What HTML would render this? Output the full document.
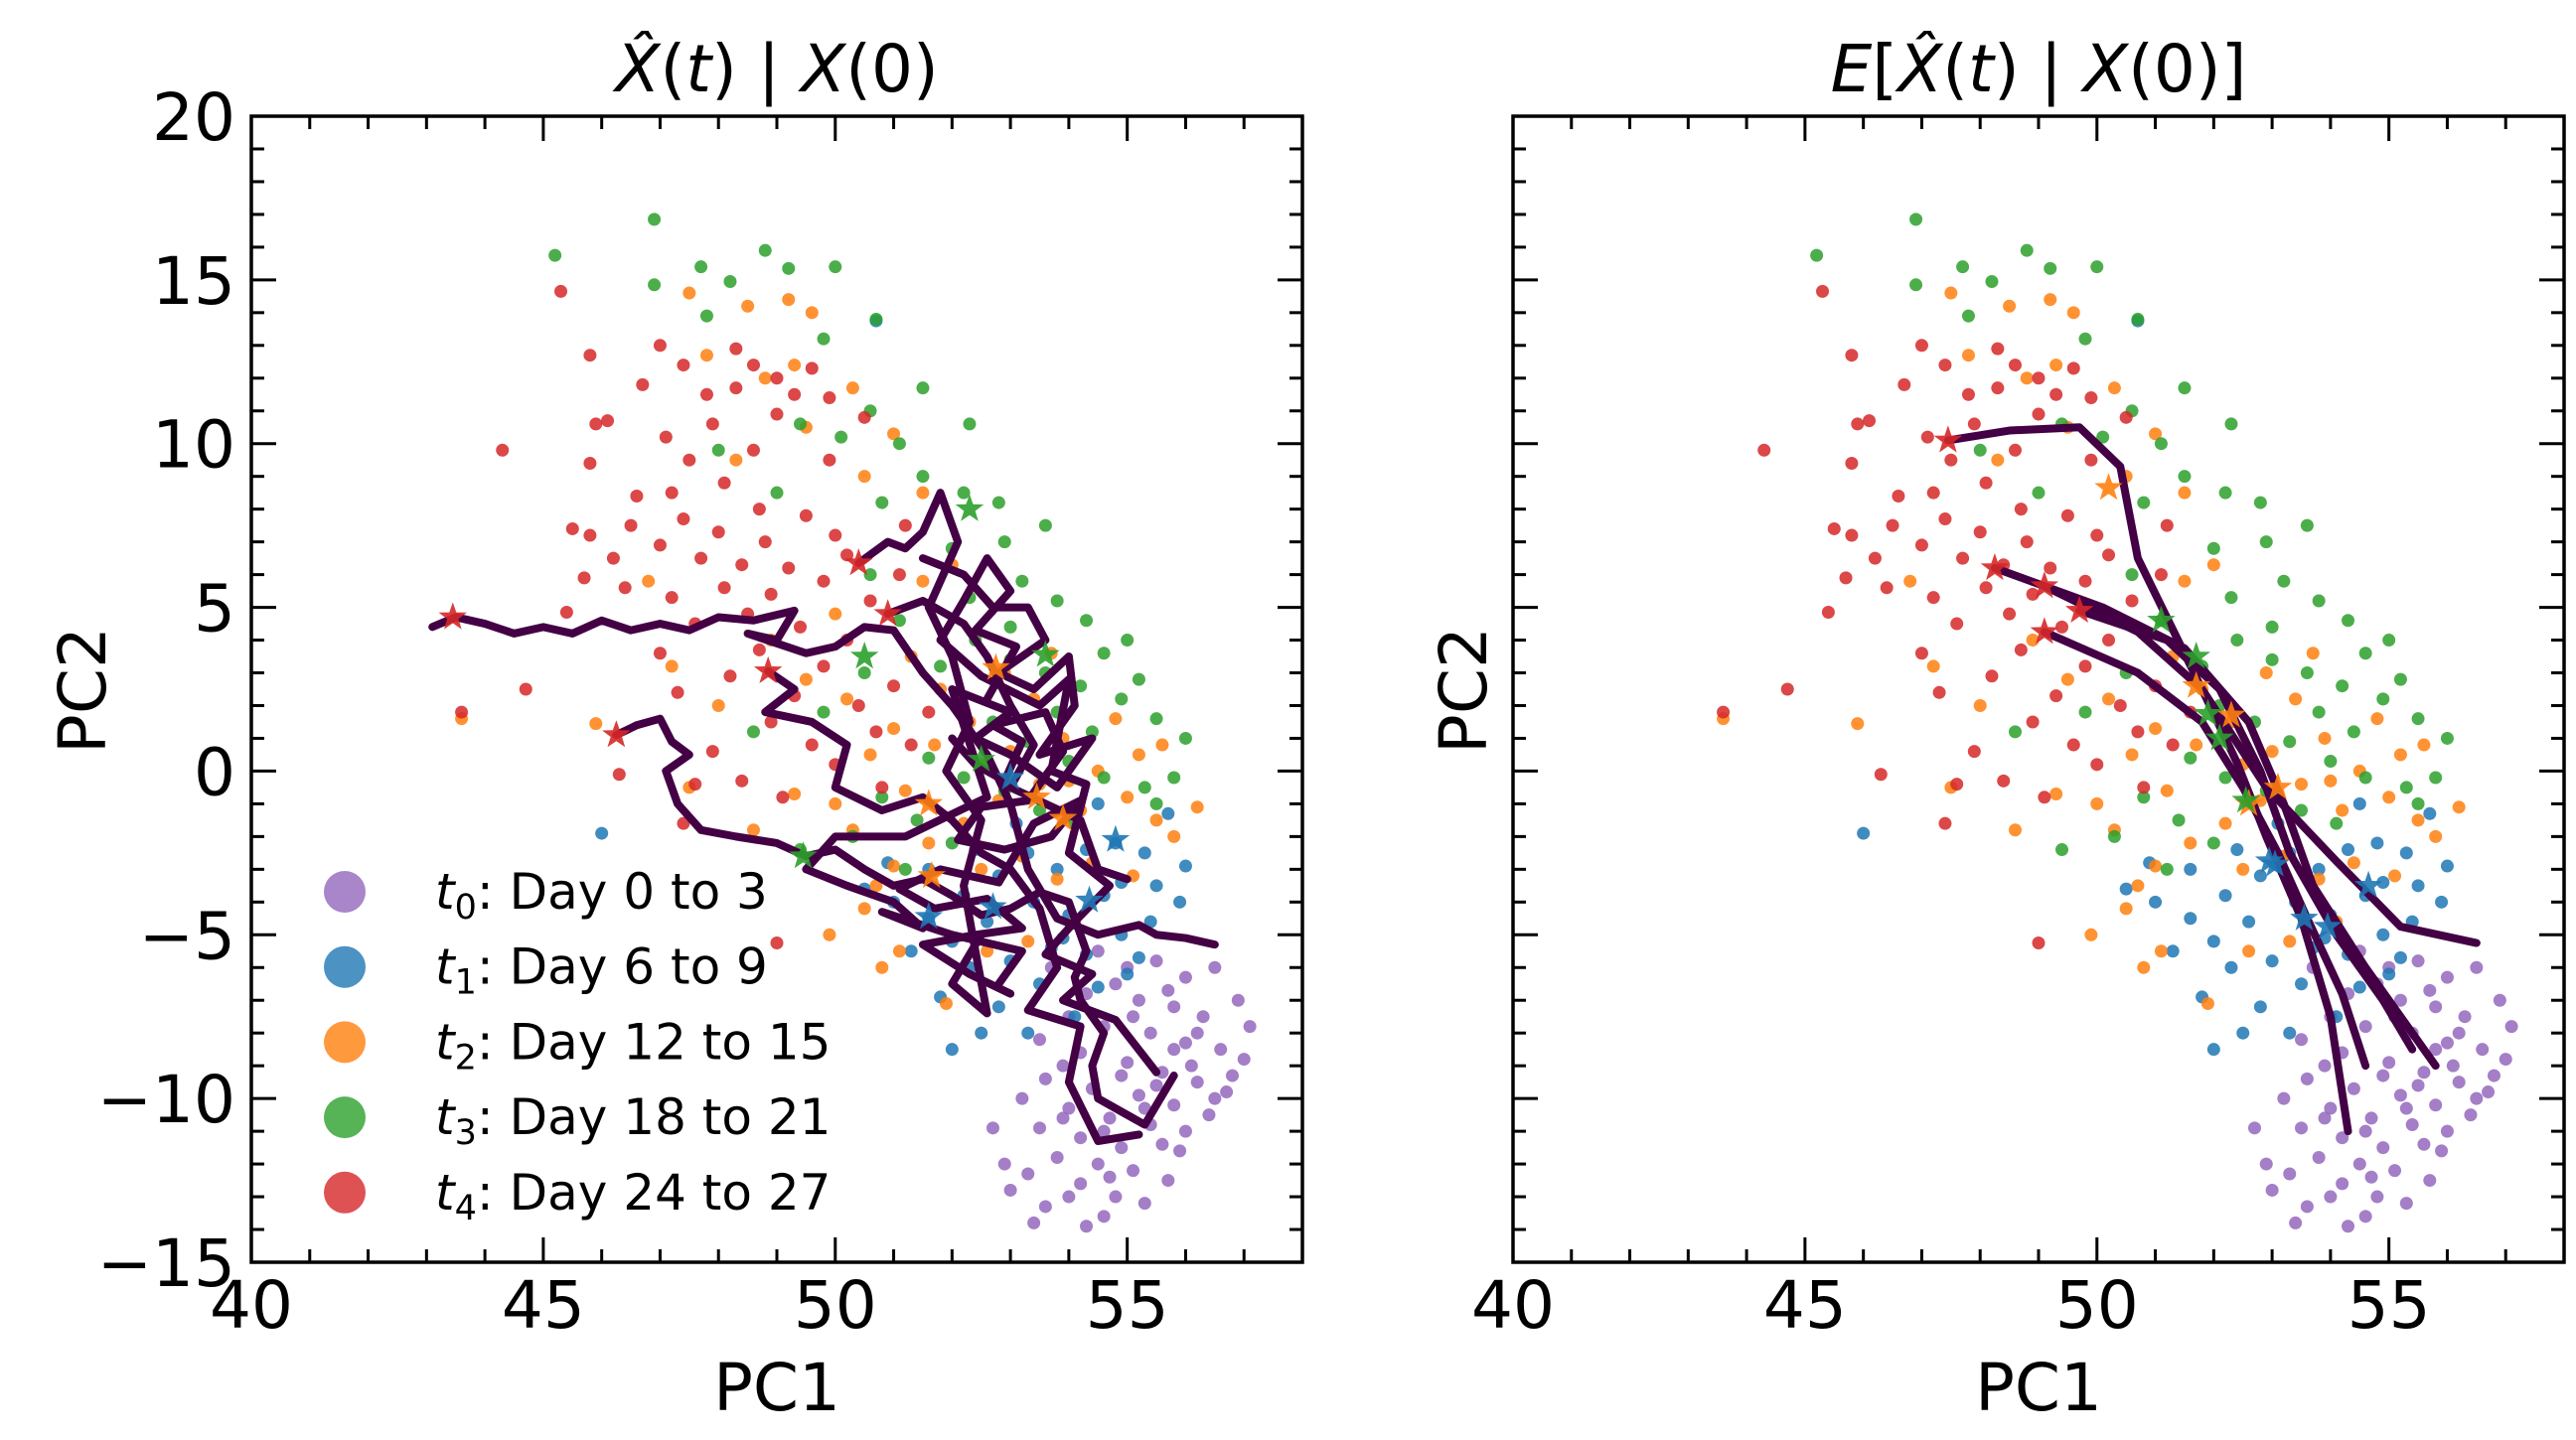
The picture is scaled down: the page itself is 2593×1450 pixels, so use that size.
<!DOCTYPE html>
<html><head><meta charset="utf-8"><style>
html,body{margin:0;padding:0;background:#fff}
svg{display:block}
text{font-family:"DejaVu Sans","Liberation Sans",sans-serif;fill:#000}
</style></head><body>
<svg id="chart" width="2593" height="1450" viewBox="0 0 2593 1450" xmlns="http://www.w3.org/2000/svg">
<rect width="2593" height="1450" fill="#fff"/>
</svg>
<script>
// ---- data (PC1, PC2) ----
const t0Points=[[54.5,-5.5],[55,-6],[55.5,-5.8],[56,-6.3],[56.5,-6.0],[54.8,-6.5],[55.2,-7],[55.8,-7.2],[56.3,-7.5],[56.9,-7.0],[54,-7.5],[54.6,-7.8],[55.4,-8],[56,-8.3],[56.6,-8.5],[57,-8.8],[53.5,-8.2],[54.2,-8.6],[55,-8.9],[55.6,-9.2],[56.2,-9.5],[56.8,-9.3],[53.6,-9.4],[54.4,-9.7],[55.2,-9.9],[55.8,-10.2],[56.4,-10.5],[53.2,-10.0],[54,-10.3],[54.7,-10.6],[55.4,-10.8],[56,-11],[53.5,-10.9],[54.2,-11.2],[54.9,-11.5],[55.6,-11.4],[53.8,-11.8],[54.5,-12],[55.1,-12.2],[55.7,-12.5],[53.3,-12.3],[54.2,-12.6],[54.8,-13],[55.3,-13.2],[53.6,-13.3],[54.6,-13.6],[52.7,-10.9],[53,-12.8],[52.9,-12],[54.3,-13.9],[53.4,-13.8],[55.5,-9.6],[56.1,-9.0],[54.9,-9.3],[55.3,-10.3],[54.6,-11.0],[53.9,-10.6],[55.9,-11.6],[56.5,-10.0],[55.1,-7.5],[54.3,-6.8],[53.7,-6.0],[56.2,-8.0],[55.7,-6.7],[53.9,-9.0],[54.7,-12.4],[54.0,-13.0],[55.8,-8.5],[56.7,-9.8],[57.1,-7.8]];
const t1Points=[[50.7,13.75],[46,-1.9],[50.5,-3.6],[51,-4],[51.6,-4.5],[52.2,-3.8],[52.8,-3.2],[53.3,-2.5],[53.8,-3.0],[54.3,-2.4],[54.8,-2.2],[55.3,-2.5],[55.5,-3.5],[54.6,-3.8],[54.0,-4.4],[53.4,-4.0],[52.6,-4.6],[52,-5.2],[51.3,-5.5],[52.3,-6.0],[53,-5.8],[53.7,-5.4],[54.3,-5.6],[54.9,-5.0],[55.4,-4.6],[55.9,-4.0],[53.5,-6.5],[54.5,-6.6],[52.8,-7.2],[52,-8.5],[53.3,-8.0],[54.1,-7.5],[55,-6.2],[51.8,-6.9],[55.7,-1.3],[54.5,-1.0],[53.1,-1.6],[50.9,-2.8],[52.4,-2.4],[54.9,-3.4],[53.9,-5.1],[55.2,-5.7],[51.6,-3.0],[56.0,-2.9],[52.5,-8.0]];
const t2Points=[[43.6,1.6],[45.9,1.45],[47.5,14.6],[48.5,14.2],[49.2,14.4],[49.6,14.0],[48.8,12.0],[47.8,12.7],[49.3,12.4],[50.3,11.7],[51.0,10.3],[49.5,10.5],[48.3,9.5],[50.5,9.0],[51.5,8.5],[46.8,5.8],[47.2,3.2],[48.0,2.0],[47.5,-0.5],[49.3,-0.7],[48.6,-1.8],[50.0,-1.0],[50.6,0.5],[51.0,1.3],[50.2,2.2],[51.3,3.5],[51.8,2.5],[52.3,1.5],[52.9,3.0],[53.4,2.2],[53.9,1.0],[54.5,0.0],[55.0,-0.8],[55.5,-1.5],[54.2,-1.2],[53.5,-0.4],[52.8,-0.9],[52.2,-1.6],[51.6,-2.2],[51.0,-2.9],[50.5,-4.2],[49.9,-5.0],[51.1,-5.5],[50.8,-6.0],[52.5,-3.0],[53.2,-2.6],[53.8,-3.3],[54.4,-2.8],[55.1,-3.2],[55.8,-2.0],[56.2,-1.1],[55.2,0.5],[54.8,1.6],[54.0,-0.3],[53.0,0.6],[52.5,0.2],[51.7,0.8],[51.2,-0.6],[50.3,-1.8],[49.5,2.8],[48.9,4.0],[50.0,4.8],[51.5,5.8],[52.0,6.3],[53.3,-5.2],[54.1,-4.6],[52.6,-5.5],[51.9,-7.1],[55.6,0.8],[53.7,3.6],[50.7,-3.5]];
const t3Points=[[46.9,16.85],[45.2,15.75],[46.9,14.85],[47.7,15.4],[48.8,15.9],[48.2,14.95],[49.2,15.35],[50.0,15.4],[50.7,13.8],[51.5,11.7],[52.3,10.6],[47.8,13.9],[49.8,13.2],[50.6,11.0],[51.1,10.0],[49.4,10.6],[50.1,10.2],[51.5,9.0],[52.8,8.2],[53.6,7.5],[52.9,7.0],[52.0,6.8],[53.2,5.8],[53.8,5.2],[54.3,4.6],[55.0,4.0],[51.1,4.6],[52.4,4.0],[53.0,3.4],[53.6,3.0],[54.2,2.6],[54.9,2.2],[55.5,1.6],[56.0,1.0],[52.1,2.0],[52.7,1.5],[53.3,0.9],[54.0,0.3],[54.6,-0.2],[55.3,-0.5],[51.6,0.4],[52.2,-0.2],[52.9,-0.6],[53.5,-1.2],[54.1,-1.6],[50.8,-0.8],[51.4,-1.5],[52.0,-2.2],[50.3,-2.0],[49.4,-2.4],[48.6,1.2],[49.8,1.8],[50.5,3.0],[51.8,3.2],[53.8,1.8],[55.2,2.8],[54.6,3.6],[53.0,4.4],[52.3,5.3],[50.6,6.0],[49.0,8.5],[48.0,9.8],[50.8,8.2],[52.2,8.5],[55.8,-0.2],[54.4,1.2],[55.5,-1.0],[51.2,-3.0]];
const t4Points=[[43.6,1.8],[44.3,9.8],[44.7,2.5],[45.4,4.85],[45.8,12.7],[45.3,14.65],[49.0,-5.25],[45.9,10.6],[46.1,10.7],[45.8,9.4],[46.6,8.4],[46.7,11.8],[47.0,13.0],[47.4,12.4],[47.8,11.5],[47.1,10.2],[47.5,9.5],[47.9,10.6],[48.3,11.7],[48.6,12.4],[48.1,8.8],[48.6,9.8],[49.0,10.9],[49.3,11.5],[49.6,12.3],[49.9,9.5],[46.5,7.5],[47.0,6.9],[47.4,7.7],[47.7,6.5],[48.0,7.3],[48.4,6.3],[48.8,7.0],[49.2,6.2],[49.5,7.8],[50.0,7.2],[46.2,6.5],[45.8,7.2],[45.5,7.4],[47.2,5.3],[47.6,4.5],[48.1,5.6],[48.5,4.8],[48.9,5.4],[49.4,4.4],[49.8,5.8],[50.2,4.0],[50.6,5.2],[47.0,3.6],[47.3,2.4],[48.2,2.9],[48.7,3.7],[49.3,2.3],[49.8,3.2],[50.4,2.0],[51.0,2.6],[50.7,1.2],[49.6,0.8],[48.9,1.5],[47.9,0.6],[47.6,-0.4],[48.4,-0.3],[49.1,-0.8],[50.0,0.2],[50.8,-0.5],[51.3,0.8],[47.4,-1.6],[46.3,-0.1],[49.9,11.4],[50.5,10.8],[51.2,7.5],[47.2,8.5],[46.4,5.6],[45.7,5.9],[48.3,12.9],[49.0,12.0],[50.2,6.6],[51.1,6.0],[48.7,8.0],[51.6,1.8]];
// left: sampled trajectories
const leftPaths=[
[[43.1,4.4],[43.5,4.7],[44,4.5],[44.5,4.2],[45,4.4],[45.5,4.2],[46,4.6],[46.5,4.3],[47,4.5],[47.5,4.3],[48,4.7],[48.6,4.6],[49.3,4.9],[49.0,4.0],[48.5,4.2],[49.5,3.6],[50,3.8],[50.5,4.4],[51,4.3],[51.5,3.0],[52,2.0],[52.6,0.5],[53,-1],[53.3,-3],[53.8,-4.5],[54.5,-5],[55.2,-4.7],[55.5,-5],[56,-5.1],[56.5,-5.3]],
[[46.25,1.1],[46.6,1.4],[47,1.6],[47.2,0.9],[47.5,0.5],[47.1,0.0],[47.3,-1.0],[47.7,-1.8],[48.3,-2.0],[49,-2.2],[49.5,-2.6],[50,-2.4],[50.5,-3.0],[51,-3.5],[51.5,-3.3],[52,-3.8],[52.5,-4.4],[53,-4.2],[53.5,-3.7],[54,-4.0],[54.3,-5.5],[54.1,-6.3],[54.2,-7],[54.6,-8],[54.4,-9],[54.5,-10],[55.3,-10.8],[55.8,-9.3]],
[[48.85,3.05],[49.3,2.5],[48.8,1.8],[49.6,1.5],[50.2,0.8],[50.0,-0.5],[50.8,-1.2],[51.5,-0.8],[52,-1.5],[52.5,-2.5],[53,-3],[53.5,-4.2],[53.8,-6],[53.3,-7.3],[54.2,-7.8],[54.0,-9.5],[54.5,-11.3],[55.2,-11.1]],
[[50.4,6.35],[50.9,7.0],[51.2,6.8],[51.5,7.3],[51.8,8.5],[52.1,7.0],[51.6,5.0],[52.0,3.5],[52.3,1.5],[51.9,0.0],[52.5,-1.5],[52.2,-3.5],[52.4,-5.5],[52.6,-7.4],[52.0,-6.5],[52.5,-5]],
[[50.9,4.8],[51.5,5.2],[52.2,4.5],[52.6,3.5],[53.0,2.0],[53.4,0.8],[53.0,-0.5],[53.6,-1.0],[54.2,-1.5],[54.5,-3.0],[55,-3.3]],
[[51.5,6.5],[52.2,6.0],[52.7,5],[53.3,5.0],[53.6,4.0],[52.8,3],[53.4,2.5],[54,3.5],[54.1,2.0],[53.5,0.5],[54.4,1.0],[53.8,-0.5],[53.0,0.5],[52.4,1.0],[53,1.8],[52,2.5],[52.6,-0.8],[51.2,-2.0],[50,-2.0],[49.5,-3],[50.2,-3.5],[51,-4.0],[51.5,-4.8],[50.8,-4.3],[52,-5],[53.2,-5.5],[52.8,-6.5]],
[[52.0,1.0],[52.4,0.2],[52.9,-0.3],[53.2,0.9],[52.7,1.4],[53.6,1.8],[53.9,0.6],[53.3,-0.9],[52.5,-1.1],[52.1,-2.1],[52.9,-2.4],[53.7,-2.0],[54.2,-0.9],[53.4,-1.6],[52.8,-3.4],[51.8,-3.0],[51.1,-3.6],[51.7,-4.2],[52.6,-3.9],[53.2,-4.8],[52.4,-5.0],[51.5,-5.3],[52.3,-6.2],[53.0,-6.8]],
[[52.6,2.2],[53.1,3.8],[52.4,4.3],[53.0,5.5],[52.6,6.5],[52.2,5.2],[51.8,4.0],[52.5,2.9],[53.5,2.0],[54.0,2.8],[53.7,0.0],[54.3,-0.4],[54.0,-2.5],[54.7,-3.5],[54.1,-4.6],[53.6,-5.6],[54.4,-6.2],[53.9,-7.0],[54.8,-7.6],[55.5,-9.2]]
];
// right: mean trajectories
const rightPaths=[
[[47.45,10.1],[48.5,10.4],[49.7,10.5],[50.4,9.3],[50.7,6.5],[51.8,2.5],[52.9,-0.5],[54.1,-2.75],[55.2,-4.75],[56.5,-5.25]],
[[48.25,6.2],[50.1,5.0],[51.5,3.75],[52.6,1.5],[53.2,-1.0],[53.7,-3.5],[54.6,-6.0],[55.8,-9.0]],
[[49.1,5.65],[50.7,4.25],[51.8,2.5],[52.4,0.25],[52.9,-2.0],[53.5,-4.5],[54.0,-7.5],[54.3,-11.0]],
[[49.7,4.9],[51.2,4.0],[52.1,2.5],[52.8,0.0],[53.3,-2.5],[54.1,-5.0],[54.9,-7.0],[55.4,-8.5]],
[[49.1,4.25],[50.7,3.0],[51.8,1.5],[52.5,-0.5],[53.1,-2.5],[53.6,-4.5],[54.2,-6.8],[54.6,-9.0]]
];
const leftStars={t4:[[43.45,4.7],[46.25,1.1],[48.85,3.05],[50.4,6.35],[50.9,4.8]],t3:[[52.3,8.0],[50.5,3.5],[52.5,0.35],[49.45,-2.6],[53.6,3.55]],t2:[[52.75,3.15],[53.45,-0.8],[53.9,-1.45],[51.6,-1.0],[51.65,-3.2]],t1:[[53.0,-0.2],[52.7,-4.15],[54.8,-2.1],[51.6,-4.45],[54.35,-3.95]]};
const rightStars={t4:[[47.45,10.1],[48.25,6.2],[49.1,5.65],[49.7,4.9],[49.1,4.25]],t2:[[50.2,8.65],[51.7,2.6],[52.3,1.7],[53.1,-0.5],[52.6,-1.0]],t3:[[51.1,4.6],[51.7,3.5],[52.1,1.0],[51.9,1.75],[52.55,-0.9]],t1:[[52.95,-2.75],[53.55,-4.5],[54.65,-3.5],[53.05,-2.85],[53.95,-4.75]]};
const xTicks=[40,45,50,55];
const yTicks=[20,15,10,5,0,-5,-10,-15];
const legendLabels=[["0","Day 0 to 3"],["1","Day 6 to 9"],["2","Day 12 to 15"],["3","Day 18 to 21"],["4","Day 24 to 27"]];

const NS="http://www.w3.org/2000/svg";
const svg=document.getElementById('chart');
const colors={t0:"#9467bd",t1:"#1f77b4",t2:"#ff7f0e",t3:"#2ca02c",t4:"#d62728"};
const points={t0:t0Points,t1:t1Points,t2:t2Points,t3:t3Points,t4:t4Points};
function mk(tag,attrs,parent){const e=document.createElementNS(NS,tag);for(const k in attrs)e.setAttribute(k,attrs[k]);(parent||svg).appendChild(e);return e;}
const XMIN=40,XMAX=58,YMIN=-15,YMAX=20,TOP=117,BOT=1271,W=1058;
function panel(x0,name,paths,stars,title,showY,legend){
  const g=mk('g',{});
  
  
  const sx=v=>x0+(v-XMIN)/(XMAX-XMIN)*W;
  const sy=v=>BOT-(v-YMIN)/(YMAX-YMIN)*(BOT-TOP);
  const clip=mk('clipPath',{id:'clip'+x0},g);
  mk('rect',{x:x0,y:TOP,width:W,height:BOT-TOP},clip);
  const plot=mk('g',{'clip-path':'url(#clip'+x0+')'},g);
  for(const k of ['t0','t1','t2','t3','t4']){
    const sg=mk('g',{},plot);
    
    
    for(const p of points[k]){
      const c=mk('circle',{cx:sx(p[0]),cy:sy(p[1]),r:6.5,fill:colors[k],'fill-opacity':0.85},sg);
      
      
    }
  }
  for(const path of paths){
    const pl=mk('polyline',{points:path.map(p=>sx(p[0])+','+sy(p[1])).join(' '),fill:'none',stroke:'#440044',"stroke-width":8,'stroke-linejoin':'round','stroke-linecap':'round'},plot);
    
    
  }
  for(const k in stars){for(const p of stars[k]){
    const cx=sx(p[0]),cy=sy(p[1]);let d='';
    for(let i=0;i<10;i++){const r=i%2?6:15;const a=-Math.PI/2+i*Math.PI/5;d+=(i?'L':'M')+(cx+r*Math.cos(a)).toFixed(1)+','+(cy+r*Math.sin(a)).toFixed(1);}
    const s=mk('path',{d:d+'Z',fill:colors[k],'fill-opacity':0.9},plot);
    
    
  }}
  const fr=mk('rect',{x:x0,y:TOP,width:W,height:BOT-TOP,fill:'none',stroke:'#000','stroke-width':3.5},g);
  
  
  for(let v=XMIN;v<=XMAX;v++){const L=(v%5===0)?25:13;const x=sx(v);
    mk('line',{x1:x,x2:x,y1:BOT,y2:BOT-L,stroke:'#000','stroke-width':3},g);
    mk('line',{x1:x,x2:x,y1:TOP,y2:TOP+L,stroke:'#000','stroke-width':3},g);}
  for(let v=YMIN;v<=YMAX;v++){const L=(v%5===0)?25:13;const y=sy(v);
    mk('line',{x1:x0,x2:x0+L,y1:y,y2:y,stroke:'#000','stroke-width':3},g);
    mk('line',{x1:x0+W,x2:x0+W-L,y1:y,y2:y,stroke:'#000','stroke-width':3},g);}
  for(const v of xTicks){const t=mk('text',{x:sx(v),y:1337,'font-size':66,'text-anchor':'middle'},g);t.textContent=v;
    }
  if(showY){for(const v of yTicks){const t=mk('text',{x:x0-16,y:sy(v)+24,'font-size':66,'text-anchor':'end'},g);t.textContent=v<0?'\u2212'+(-v):v;
    }}
  const xl=mk('text',{x:x0+W/2,y:1420,'font-size':66,'text-anchor':'middle'},g);xl.textContent='PC1';
  
  const yx=showY?83:x0-50;
  const yl=mk('text',{x:yx,y:695,'font-size':66,'text-anchor':'middle',transform:'rotate(-90 '+yx+' 695)',dy:'23'},g);yl.textContent='PC2';
  
  const tt=mk('text',{x:x0+W/2,y:92,'font-size':66,'text-anchor':'middle'},g);tt.innerHTML=title;
  
  if(legend){
    const lg=mk('g',{},g);
    
    
    const keys=['t0','t1','t2','t3','t4'];
    legendLabels.forEach((lab,i)=>{
      const y=898+i*75.7;
      const e=mk('g',{},lg);
      
      
      mk('circle',{cx:347,cy:y,r:21,fill:colors[keys[i]],'fill-opacity':0.8},e);
      const t=mk('text',{x:438,y:y+17,'font-size':50},e);
      t.innerHTML='<tspan font-style="italic">t</tspan><tspan font-size="35" dy="10">'+lab[0]+'</tspan><tspan dy="-10">: '+lab[1]+'</tspan>';
    });
  }
}
panel(253,'left-panel',leftPaths,leftStars,'<tspan font-style="italic">X̂</tspan>(<tspan font-style="italic">t</tspan>) | <tspan font-style="italic">X</tspan>(0)',true,true);
panel(1523,'right-panel',rightPaths,rightStars,'<tspan font-style="italic">E</tspan>[<tspan font-style="italic">X̂</tspan>(<tspan font-style="italic">t</tspan>) | <tspan font-style="italic">X</tspan>(0)]',false,false);
</script>
</body></html>
